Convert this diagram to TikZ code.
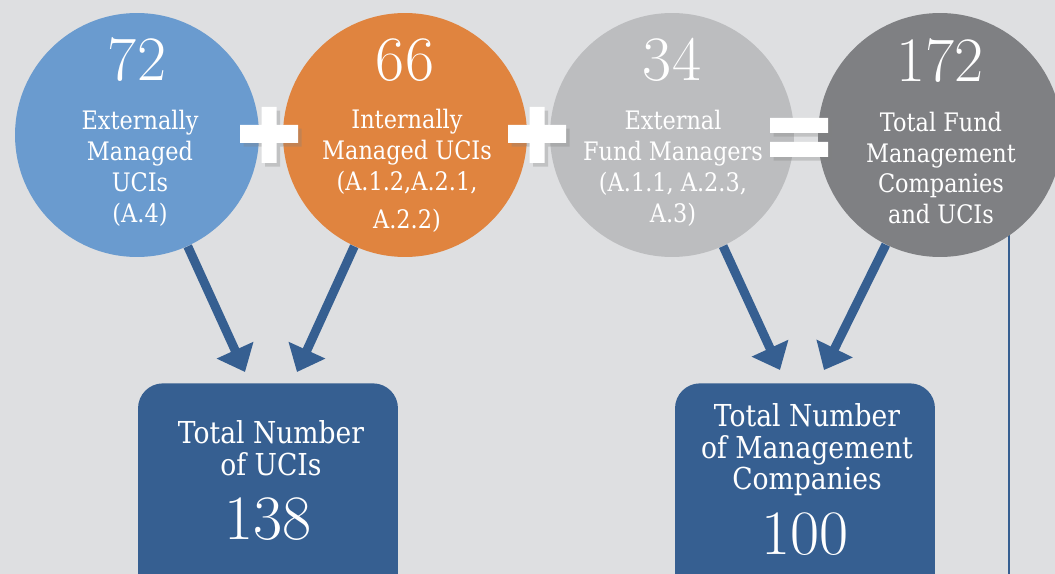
\documentclass[tikz,border=0pt]{standalone}
\usepackage{fontspec}
\setmainfont{DejaVu Serif}[FakeStretch=0.88]
\newfontfamily\numfont{Latin Modern Roman}
\usetikzlibrary{arrows.meta, positioning, calc, shadows}

\definecolor{extblue}{HTML}{6A9BCF}
\definecolor{intorange}{HTML}{E0843F}
\definecolor{fmgray}{HTML}{BCBDBF}
\definecolor{totgray}{HTML}{7F8083}
\definecolor{boxblue}{HTML}{365F91}
\definecolor{pagegray}{HTML}{DEDFE1}

\tikzset{
  circ/.style = {circle, minimum size=4.88cm, inner sep=0pt},
  tallybox/.style = {fill=boxblue, rounded corners=0.5cm, minimum width=5.2cm, minimum height=5cm, anchor=north},
  lbl/.style = {text=white, align=center, font=\fontsize{14.5}{17.6}\selectfont},
  boxlbl/.style = {text=white, align=center, font=\fontsize{17.2}{18}\selectfont},
  num/.style = {text=white, anchor=base, font=\numfont\fontsize{36}{40}\selectfont},
  arrow/.style = {-{Triangle[length=0.48cm, width=0.78cm]}, line width=0.18cm, draw=boxblue},
  sign/.style = {fill=white, drop shadow={shadow xshift=2pt, shadow yshift=-2pt, opacity=0.3}}
}

\begin{document}
\begin{tikzpicture}[x=0.02cm, y=-0.02cm]
  \useasboundingbox (0,0) rectangle (1055,574);
  \clip (0,0) rectangle (1055,574);
  \fill[pagegray] (0,0) rectangle (1055,574);

  % rule on the right, runs behind the last circle
  \coordinate (rule-top) at (1009,135);
  \coordinate (rule-bot) at (1009,574);
  \draw[boxblue, line width=1.5pt] (rule-top) -- (rule-bot);

  % the four circles
  \node[circ, fill=extblue] (ext) at (137,135) {};
  \node[circ, fill=intorange] (int) at (405,135) {};
  \node[circ, fill=fmgray] (fm) at (672,135) {};
  \node[circ, fill=totgray] (tot) at (940,135) {};

  \node[num] (ext-n) at (137,81) {72};
  \node[lbl] (ext-t) at (140,168) {Externally\\Managed\\UCIs\\(A.4)};
  \node[num] (int-n) at (405,81) {66};
  \node[lbl] (int-t) at (407,171) {Internally\\Managed UCIs\\(A.1.2,A.2.1,\\[4pt]A.2.2)};
  \node[num] (fm-n) at (672,81) {34};
  \node[lbl] (fm-t) at (673,168) {External\\Fund Managers\\(A.1.1, A.2.3,\\A.3)};
  \node[num] (tot-n) at (940,82) {172};
  \node[lbl] (tot-t) at (941,168) {Total Fund\\Management\\Companies\\and UCIs};

  % plus and equals signs
  \foreach \cx in {269,537}
    \fill[sign] (\cx-29,125) rectangle (\cx+29,143) (\cx-7.5,107) rectangle (\cx+7.5,163);
  \fill[sign] (770,118) rectangle (828,133) (770,142) rectangle (828,157);

  % totals
  \node[tallybox] (ucis) at (268,383) {};
  \node[tallybox] (mgmt) at (805,383) {};
  \node[boxlbl] (ucis-t) at (271,448) {Total Number\\of UCIs};
  \node[num] (ucis-n) at (268,539) {138};
  \node[boxlbl] (mgmt-t) at (807,450) {Total Number\\of Management\\Companies};
  \node[num] (mgmt-n) at (805,554) {100};

  \coordinate (ucis-l) at ($(ucis.north)+(-23,-11)$);
  \coordinate (ucis-r) at ($(ucis.north)+(29,-11)$);
  \coordinate (mgmt-l) at ($(mgmt.north)+(-25,-13)$);
  \coordinate (mgmt-r) at ($(mgmt.north)+(19,-13)$);

  \draw[arrow] (ext) -- (ucis-l);
  \draw[arrow] (int) -- (ucis-r);
  \draw[arrow] (fm) -- (mgmt-l);
  \draw[arrow] (tot) -- (mgmt-r);

\end{tikzpicture}
\end{document}
